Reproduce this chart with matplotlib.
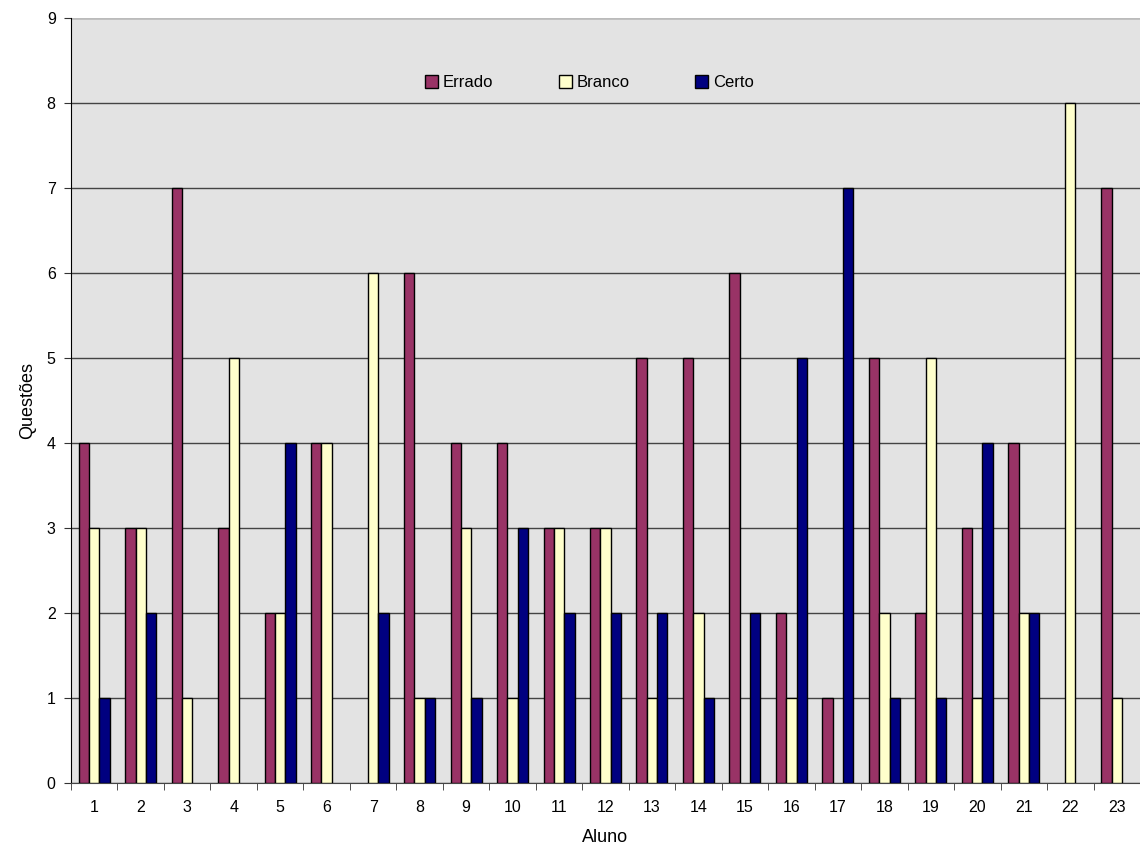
import numpy as np
import matplotlib.pyplot as plt

plt.rcParams['font.family'] = ['Liberation Sans', 'DejaVu Sans']

alunos = [str(i) for i in range(1, 24)]
errado = [4, 3, 7, 3, 2, 4, 0, 6, 4, 4, 3, 3, 5, 5, 6, 2, 1, 5, 2, 3, 4, 0, 7]
branco = [3, 3, 1, 5, 2, 4, 6, 1, 3, 1, 3, 3, 1, 2, 0, 1, 0, 2, 5, 1, 2, 8, 1]
certo = [1, 2, 0, 0, 4, 0, 2, 1, 1, 3, 2, 2, 2, 1, 2, 5, 7, 1, 1, 4, 2, 0, 0]

series = [('Errado', errado, '#993366'),
          ('Branco', branco, '#FFFFCC'),
          ('Certo', certo, '#000080')]

fig = plt.figure(figsize=(11.4, 8.46), dpi=100)
ax = fig.add_axes([0.0623, 0.0745, 0.9377, 0.904])
ax.set_facecolor('#E3E3E3')

x = np.arange(len(alunos))
w = 1 / 4.5
for i, (nome, vals, cor) in enumerate(series):
    # zero-height bars get no outline
    lw = [1.0 if v > 0 else 0 for v in vals]
    ax.bar(x + (i - 1) * w, vals, width=w, color=cor, edgecolor='black',
           linewidth=lw, label=nome, zorder=3)

ax.set_xlim(-0.5, len(alunos) - 0.5)
ax.set_ylim(0, 9)
ax.set_yticks(range(10))
ax.yaxis.grid(True, color='#444444', linewidth=1.0, zorder=1)

ax.set_xticks(x)
ax.set_xticklabels(alunos)
ax.set_xticks(np.arange(-0.5, len(alunos), 1), minor=True)
ax.tick_params(axis='x', which='major', length=0, pad=12, labelsize=11.5)
ax.tick_params(axis='x', which='minor', length=5, direction='out', color='#333333')
ax.tick_params(axis='y', length=5, direction='out', labelsize=11.5, pad=6, color='#333333')

for s in ['top', 'right']:
    ax.spines[s].set_visible(False)
ax.spines['left'].set_color('black')
ax.spines['bottom'].set_color('#444444')
ax.axhline(9, color='#BBBBBB', linewidth=1.0, zorder=2)

ax.set_xlabel('Aluno', fontsize=13, labelpad=10)
ax.set_ylabel('Questões', fontsize=13, labelpad=8)

leg = ax.legend(loc='upper center', bbox_to_anchor=(0.485, 0.945), ncol=3, frameon=False,
                fontsize=12, handlelength=0.8, handleheight=0.8, handletextpad=0.3,
                columnspacing=3.9)

fig.savefig('out.png', dpi=100)
